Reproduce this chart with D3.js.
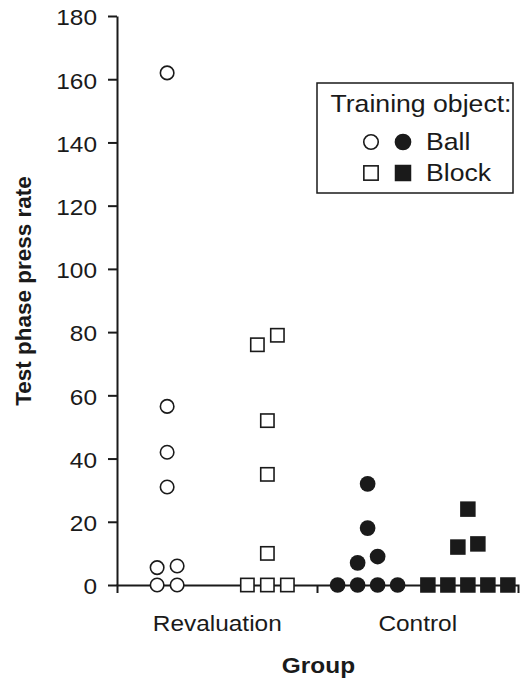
<!DOCTYPE html>
<html>
<head>
<meta charset="utf-8">
<script src="https://cdn.jsdelivr.net/npm/d3@7"></script>
<style>
  body { margin: 0; background: #fff; }
  svg { display: block; font-family: "Liberation Sans", Arial, sans-serif; }
</style>
</head>
<body>
<div id="chart"></div>
<script>
// Test phase press rate per rat, by group and training object
const groups = ['Revaluation', 'Control'];
const objects = ['Ball', 'Block'];
const yTicks = [0, 20, 40, 60, 80, 100, 120, 140, 160, 180];

// values + jitter slot (in marker widths) so stacked points sit side by side
const revalBall = [162, 56.5, 42, 31, 5.5, 6, 0, 0];
const revalBallSlot = [0, 0, 0, 0, -0.5, 0.5, -0.5, 0.5];
const revalBlock = [79, 76, 52, 35, 10, 0, 0, 0];
const revalBlockSlot = [0.5, -0.5, 0, 0, 0, -1, 0, 1];
const controlBall = [32, 18, 9, 7, 0, 0, 0, 0];
const controlBallSlot = [0, 0, 0.5, -0.5, -1.5, -0.5, 0.5, 1.5];
const controlBlock = [24, 13, 12, 0, 0, 0, 0, 0];
const controlBlockSlot = [0, 0.5, -0.5, -2, -1, 0, 1, 2];

const series = [
  { group: 'Revaluation', object: 'Ball', filled: false, values: revalBall, slots: revalBallSlot },
  { group: 'Revaluation', object: 'Block', filled: false, values: revalBlock, slots: revalBlockSlot },
  { group: 'Control', object: 'Ball', filled: true, values: controlBall, slots: controlBallSlot },
  { group: 'Control', object: 'Block', filled: true, values: controlBlock, slots: controlBlockSlot },
];

const W = 520, H = 679;
const M = { top: 16, right: 2, bottom: 94, left: 117 };
const INK = '#1a1a1a';
const SLOT = 20;
const STRETCH = 1.11; // the original lettering is a little wider than Arial

const svg = d3.select('#chart').append('svg')
  .attr('width', W).attr('height', H);

// widen text horizontally about its own anchor
function widen(sel) {
  sel.each(function () {
    const t = d3.select(this);
    const x0 = +t.attr('x') || 0;
    const prev = t.attr('transform') || '';
    t.attr('transform', `${prev} translate(${x0},0) scale(${STRETCH},1) translate(${-x0},0)`);
  });
}

const x = d3.scaleBand().domain(groups).range([M.left, W - M.right]);
const xObj = d3.scalePoint().domain(objects).range([-x.bandwidth() / 4, x.bandwidth() / 4]);
const y = d3.scaleLinear().domain([0, 180]).range([H - M.bottom, M.top]);

// y axis
const yAxis = svg.append('g')
  .attr('transform', `translate(${M.left},0)`)
  .call(d3.axisLeft(y).tickValues(yTicks).tickSizeInner(9).tickSizeOuter(0).tickPadding(11));
yAxis.selectAll('text').style('font-size', '22px').attr('fill', INK).attr('dy', '0.4em').call(widen);

// x axis: labels at band centres, ticks at band edges
const xAxis = svg.append('g')
  .attr('transform', `translate(0,${y(0)})`)
  .call(d3.axisBottom(x).tickSizeInner(0).tickSizeOuter(8).tickPadding(30));
xAxis.selectAll('text').style('font-size', '22px').attr('fill', INK).call(widen);
xAxis.selectAll('.edge').data(groups.slice(1)).join('line')
  .attr('class', 'edge')
  .attr('x1', d => x(d)).attr('x2', d => x(d))
  .attr('y1', 0).attr('y2', 8);

svg.selectAll('.domain, .tick line').attr('stroke', INK).attr('stroke-width', 2);
xAxis.selectAll('.edge').attr('stroke', INK).attr('stroke-width', 2);

// axis titles
svg.append('text')
  .attr('transform', 'translate(31,291) rotate(-90)')
  .attr('text-anchor', 'middle')
  .style('font-size', '22.5px').style('font-weight', 'bold').attr('fill', INK)
  .text('Test phase press rate');
svg.append('text')
  .attr('x', (x.range()[0] + x.range()[1]) / 2 + 1).attr('y', 673)
  .attr('text-anchor', 'middle')
  .style('font-size', '22px').style('font-weight', 'bold').attr('fill', INK)
  .text('Group')
  .call(widen);

// markers
function marker(sel, object, filled, size) {
  if (object === 'Ball') {
    sel.append('circle').attr('r', filled ? size / 2 + 0.6 : size / 2 - 0.5);
  } else {
    const s = filled ? size + 1 : size - 1.2;
    sel.append('rect').attr('x', -s / 2).attr('y', -s / 2).attr('width', s).attr('height', s);
  }
  sel.attr('fill', filled ? INK : '#fff')
    .attr('stroke', filled ? 'none' : INK)
    .attr('stroke-width', 1.6);
}

const points = series.flatMap(s => s.values.map((v, i) => ({ ...s, value: v, slot: s.slots[i] })));
svg.append('g').selectAll('g').data(points).join('g')
  .attr('transform', d => `translate(${x(d.group) + x.bandwidth() / 2 + xObj(d.object) + d.slot * SLOT},${y(d.value)})`)
  .each(function (d) { marker(d3.select(this), d.object, d.filled, 14.5); });

// legend
const lg = svg.append('g').attr('transform', 'translate(317,83)');
lg.append('rect').attr('width', 196).attr('height', 110)
  .attr('fill', '#fff').attr('stroke', INK).attr('stroke-width', 1.5);
lg.append('text').attr('x', 104).attr('y', 29).attr('text-anchor', 'middle')
  .style('font-size', '24px').attr('fill', INK).text('Training object:')
  .call(widen);
objects.forEach((o, i) => {
  const ry = 59 + i * 31;
  [false, true].forEach((f, j) => {
    const g = lg.append('g').attr('transform', `translate(${54 + j * 32},${ry})`);
    marker(g, o, f, 15.5);
  });
  lg.append('text').attr('x', 109).attr('y', ry + 8)
    .style('font-size', '24px').attr('fill', INK).text(o)
    .call(widen);
});
</script>
</body>
</html>
